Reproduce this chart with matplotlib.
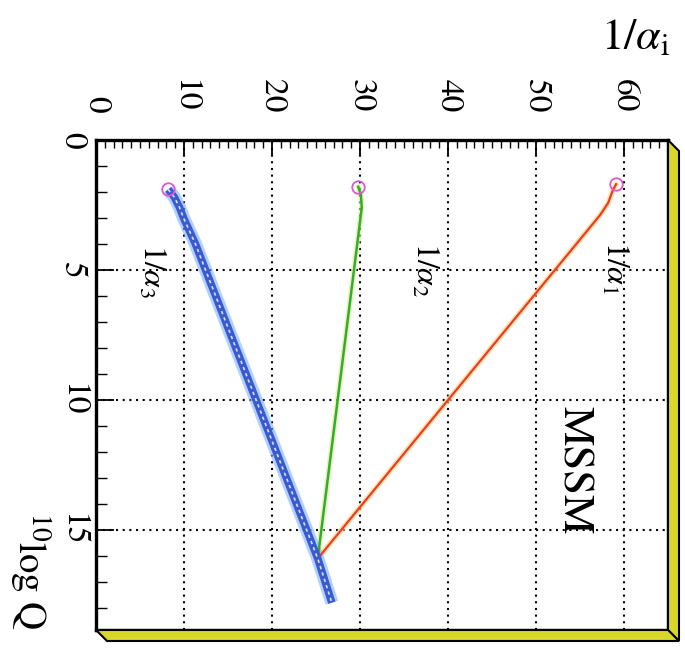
import numpy as np
import matplotlib
matplotlib.use("Agg")
import matplotlib.pyplot as plt
from matplotlib.patches import Polygon
from matplotlib.ticker import MultipleLocator

plt.rcParams['font.family'] = ['STIXGeneral', 'DejaVu Serif']
plt.rcParams['mathtext.fontset'] = 'stix'

# running couplings (log10 Q, 1/alpha)
q1 = [1.7, 1.92, 2.42, 2.88, 16.1]
inv_a1 = [59.1, 58.75, 58.2, 57.3, 25.2]

q2 = [1.8, 2.1, 2.6, 3.7, 16.1]
inv_a2 = [29.8, 30.1, 30.2, 29.8, 25.2]

q3 = [1.9, 2.2, 2.6, 3.0, 4.0, 16.1, 17.8]
inv_a3 = [8.2, 8.9, 9.5, 9.95, 11.3, 25.2, 26.8]

x_ticks = [0, 10, 20, 30, 40, 50, 60]
y_ticks = [0, 5, 10, 15]

fig = plt.figure(figsize=(6.85, 6.53), dpi=100)
W, H = 685, 653
# axes box in pixels: left 96, right 668, top 140, bottom 630
ax = fig.add_axes([96 / W, 1 - 630 / H, (668 - 96) / W, (630 - 140) / H])

# fake 3D yellow edge on right and bottom
d = 11
def px(x, y):
    return (x / W, 1 - y / H)
right_band = [px(668, 140), px(668 + d, 140 + d), px(668 + d, 630 + d), px(668, 630)]
bottom_band = [px(96, 630), px(668, 630), px(668 + d, 630 + d), px(96 + d, 630 + d)]
for pts in (right_band, bottom_band):
    fig.patches.append(Polygon(pts, closed=True, transform=fig.transFigure,
                               facecolor='#d9d82a', edgecolor='black', lw=1.5, zorder=0))

ax.set_xlim(0, 65)
ax.set_ylim(18.85, 0)

# lines
ax.plot(inv_a1, q1, color='#ffd37a', lw=4, alpha=0.6, solid_capstyle='round', zorder=3)
ax.plot(inv_a1, q1, color='#f03a25', lw=1.6, zorder=4)
ax.plot(inv_a2, q2, color='#e4ea90', lw=4, alpha=0.6, solid_capstyle='round', zorder=3)
ax.plot(inv_a2, q2, color='#2db02d', lw=1.8, zorder=4)
ax.plot(inv_a3, q3, color='#7fb2ff', lw=9.5, alpha=0.6, solid_capstyle='butt',
        solid_joinstyle='round', zorder=3)
ax.plot(inv_a3, q3, color='#3a5ad0', lw=5.5, solid_capstyle='butt',
        solid_joinstyle='round', zorder=4)
ax.plot(inv_a3, q3, color='white', lw=1.2, ls=(0, (2, 2)), alpha=0.8, zorder=5)

# starting points
for xs, ys in ((inv_a1, q1), (inv_a2, q2), (inv_a3, q3)):
    ax.plot(xs[0], ys[0], 'o', mfc='none', mec='#e058d0', ms=9, mew=1.3, zorder=6)

# ticks
ax.xaxis.tick_top()
ax.set_xticks(x_ticks)
ax.set_xticklabels([str(t) for t in x_ticks], rotation=-90)
ax.xaxis.set_minor_locator(MultipleLocator(1))
ax.set_yticks(y_ticks)
ax.set_yticklabels([str(t) for t in y_ticks], rotation=-90, va='center')
ax.yaxis.set_minor_locator(MultipleLocator(1))
ax.tick_params(axis='x', which='both', direction='in', top=True, bottom=False,
               labelsize=24, pad=20)
ax.tick_params(axis='x', which='major', length=11, width=1.3)
ax.tick_params(axis='x', which='minor', length=6, width=1)
ax.tick_params(axis='y', which='both', direction='in', left=True, right=False,
               labelsize=24, pad=7)
ax.tick_params(axis='y', which='major', length=13, width=1.3)
ax.tick_params(axis='y', which='minor', length=8, width=1)

ax.grid(True, which='major', color='black', lw=1.5, ls=(0, (1, 2.2)), zorder=1)
for s in ax.spines.values():
    s.set_linewidth(2.4)

# labels
ax.text(58.9, 4.9, r'$1/\alpha_1$', rotation=-90, ha='center', va='center', fontsize=23)
ax.text(37.4, 5.0, r'$1/\alpha_2$', rotation=-90, ha='center', va='center', fontsize=23)
ax.text(6.3, 5.05, r'$1/\alpha_3$', rotation=-90, ha='center', va='center', fontsize=23)
ax.text(54.2, 12.7, 'MSSM', rotation=-90, ha='center', va='center', fontsize=32)
ax.text(-7.5, 16.6, r'${}^{10}$log Q', rotation=-90, ha='center', va='center',
        fontsize=28, clip_on=False)
fig.text(635 / W, 1 - 38 / H, r'$1/\alpha_\mathrm{i}$', ha='center', va='center', fontsize=32)

fig.savefig('out.png', dpi=100)
